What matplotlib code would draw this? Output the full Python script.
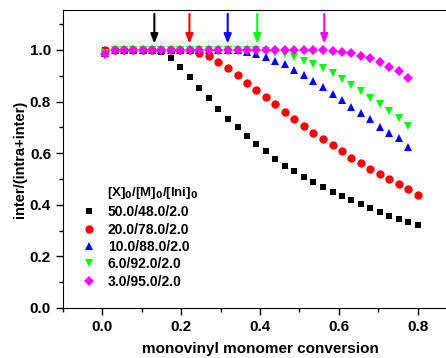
import matplotlib
matplotlib.use('Agg')
import matplotlib.pyplot as plt
from matplotlib.ticker import MultipleLocator

plt.rcParams['font.family'] = ['Liberation Sans', 'DejaVu Sans']
plt.rcParams['font.weight'] = 'bold'
plt.rcParams['mathtext.default'] = 'bf'

conv = [0.007, 0.032, 0.055, 0.078, 0.102, 0.127, 0.150, 0.174, 0.198, 0.222,
        0.246, 0.271, 0.294, 0.319, 0.343, 0.366, 0.390, 0.415, 0.439, 0.463,
        0.487, 0.511, 0.535, 0.559, 0.584, 0.607, 0.632, 0.656, 0.680, 0.704,
        0.728, 0.752, 0.776, 0.800]

y_50 = [1.0, 1.0, 1.0, 1.0, 1.0, 1.0, 0.994, 0.970, 0.935, 0.895, 0.854, 0.814,
        0.773, 0.734, 0.700, 0.667, 0.637, 0.607, 0.579, 0.552, 0.530, 0.508,
        0.487, 0.468, 0.450, 0.433, 0.417, 0.402, 0.386, 0.372, 0.358, 0.345,
        0.332, 0.320]
y_20 = [1.0] * 10 + [0.990, 0.975, 0.952, 0.929, 0.902, 0.873, 0.846, 0.818,
                     0.789, 0.760, 0.733, 0.705, 0.680, 0.654, 0.630, 0.607,
                     0.583, 0.561, 0.539, 0.518, 0.499, 0.479, 0.460, 0.439]
y_10 = [0.99] + [1.0] * 14 + [0.994, 0.984, 0.972, 0.959, 0.944, 0.922, 0.903,
                              0.880, 0.855, 0.829, 0.806, 0.780, 0.757, 0.731,
                              0.703, 0.680, 0.658, 0.625]
y_6 = [0.99] + [1.0] * 16 + [0.997, 0.990, 0.983, 0.972, 0.957, 0.944, 0.931,
                             0.912, 0.886, 0.864, 0.842, 0.815, 0.791, 0.765,
                             0.735, 0.707]
y_3 = [0.985] + [1.0] * 23 + [0.997, 0.994, 0.990, 0.978, 0.968, 0.955, 0.935,
                              0.918, 0.890]

labels = ['50.0/48.0/2.0', '20.0/78.0/2.0', '10.0/88.0/2.0', '6.0/92.0/2.0', '3.0/95.0/2.0']
colors = ['black', '#ff0000', '#0000ff', '#00ff00', '#ff00ff']
markers = ['s', 'o', '^', 'v', 'D']
sizes = [5, 6, 6, 6, 5]
series = [y_50, y_20, y_10, y_6, y_3]

# onset points marked with arrows
arrow_x = [0.132, 0.221, 0.318, 0.393, 0.563]

fig = plt.figure(figsize=(4.46, 3.58), dpi=100)
ax = fig.add_axes([0.141, 0.14, 0.884, 0.832])

for ys, lab, c, m, s in zip(series, labels, colors, markers, sizes):
    ax.plot(conv[:len(ys)], ys, linestyle='none', marker=m, color=c,
            markersize=s, markeredgewidth=0, label=lab)

for xa, c in zip(arrow_x, colors):
    ax.annotate('', xy=(xa, 1.025), xytext=(xa, 1.14),
                arrowprops=dict(arrowstyle='-|>,head_length=0.55,head_width=0.22',
                                color=c, lw=1.5, shrinkA=0, shrinkB=0))

ax.set_xlim(-0.1, 0.9)
ax.set_ylim(0.0, 1.155)
ax.xaxis.set_major_locator(MultipleLocator(0.2))
ax.xaxis.set_minor_locator(MultipleLocator(0.1))
ax.yaxis.set_major_locator(MultipleLocator(0.2))
ax.yaxis.set_minor_locator(MultipleLocator(0.1))
ax.tick_params(which='both', direction='out', labelsize=11, width=1)
ax.tick_params(which='major', length=5)
ax.tick_params(which='minor', length=3)
for lab in ax.get_xticklabels() + ax.get_yticklabels():
    lab.set_fontweight('bold')

ax.set_xlabel('monovinyl monomer conversion', fontsize=11, fontweight='bold', labelpad=6)
ax.set_ylabel('inter/(intra+inter)', fontsize=10.5, fontweight='bold', labelpad=2)

ax.text(0.013, 0.445, '[X]$_0$/[M]$_0$/[Ini]$_0$', fontsize=9.5, fontweight='bold',
        ha='left', va='center')
ax.legend(loc='upper left', bbox_to_anchor=(0.015, 0.377), frameon=False,
          fontsize=10, handletextpad=0.6, labelspacing=0.24, handlelength=1.5,
          borderaxespad=0.3)

fig.savefig('out.png', dpi=100)
